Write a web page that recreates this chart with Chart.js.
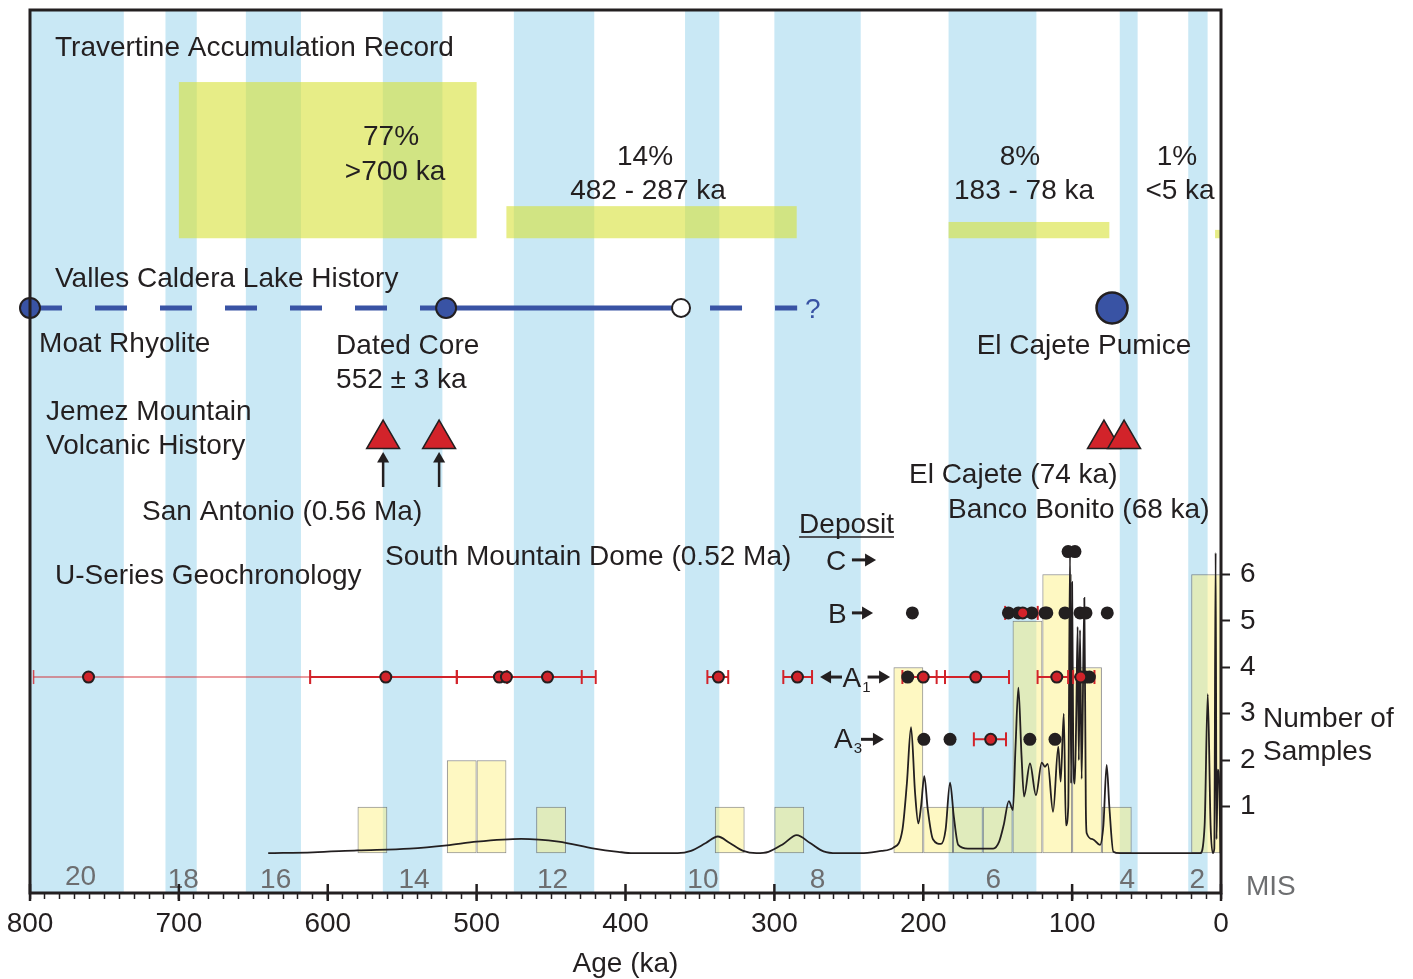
<!DOCTYPE html>
<html>
<head>
<meta charset="utf-8">
<script src="https://cdn.jsdelivr.net/npm/chart.js@4.4.1/dist/chart.umd.min.js"></script>
<style>
  html, body { margin: 0; padding: 0; background: #fff; }
  #chart { display: block; }
</style>
</head>
<body>
<canvas id="chart" width="1413" height="979"></canvas>
<script>
// --- data (ages in ka) ---
const ageTicks = [800, 700, 600, 500, 400, 300, 200, 100, 0];
const countTicks = [1, 2, 3, 4, 5, 6];

// marine isotope stages (glacial bands)
const misStart = [800, 709, 655, 563, 475, 360, 300, 183, 68, 22];
const misEnd = [737, 688, 618, 523, 421, 337, 242, 124, 56, 9];
const misNames = ['20', '18', '16', '14', '12', '10', '8', '6', '4', '2'];
const misNameAge = [766, 697, 635, 542, 449, 348, 271, 153, 63, 16];

// travertine accumulation blocks
const travStart = [700, 480, 183, 4];
const travEnd = [500, 285, 75, 0];
const travTop = [16.59, 13.92, 13.58, 13.41];
const travBase = 13.23;
const travShare = ['77%', '14%', '8%', '1%'];
const travRange = ['>700 ka', '482 - 287 ka', '183 - 78 ka', '<5 ka'];

// histogram of U-series samples, 20 ka bins (bin centre, count)
const binCentre = [570, 510, 490, 450, 330, 290, 210, 190, 170, 150, 130, 110, 90, 70, 10];
const binCount = [1, 2, 2, 1, 1, 1, 4, 1, 1, 1, 5, 6, 4, 1, 6];

// summed probability curve [age, value]
const density = [
  [640, 0], [610, 0.02], [580, 0.06], [545, 0.1], [520, 0.17], [500, 0.25], [470, 0.31],
  [445, 0.25], [421, 0.1], [405, 0.03], [395, 0], [365, 0], [356, 0.05], [346, 0.22],
  [338, 0.36], [330, 0.22], [321, 0.05], [312, 0], [304, 0.03], [294, 0.2], [285, 0.39],
  [276, 0.22], [267, 0.04], [258, 0], [242, 0], [228, 0.05], [220, 0.12], [214, 0.5],
  [211, 1.5], [208.2, 2.71], [205.5, 1.3], [203.3, 0.64], [201.5, 1.0], [199.3, 1.66],
  [197, 0.95], [193.5, 0.3], [188, 0.2], [185, 0.5], [182, 1.52], [179.5, 0.8], [176.5, 0.18],
  [170, 0.1], [153, 0.1], [149, 0.25], [146, 0.6], [142.5, 1.12], [139.8, 0.93], [138, 2.3],
  [136.1, 3.56], [134, 2.1], [132.3, 1.22], [128.3, 1.93], [124.3, 1.25], [120.4, 1.95],
  [118.2, 1.86], [116.4, 1.92], [112.8, 0.89], [109.3, 2.29], [107.7, 1.54], [105.6, 3.0],
  [104.2, 0.6], [102.6, 1.0], [101.4, 6.5], [100.7, 1.5], [100.0, 5.83], [99.2, 2.0],
  [98.2, 1.5], [97.2, 3.0], [96.3, 4.87], [95.5, 2.0], [94.7, 4.8], [93.6, 1.6], [91.8, 5.49],
  [90.8, 1.0], [90.2, 0.43], [86, 0.3], [81.3, 0.18], [79, 0.6], [76.8, 1.9], [75, 1.0],
  [72.3, 0.03], [68, 0], [14, 0], [11, 0.6], [8.9, 3.42], [7, 0.6], [5.5, 0], [4.5, 0.1],
  [3.6, 6.46], [3.0, 0.3], [2.2, 1.8], [1.2, 1.5], [0.3, 0]
];

// lake history
const lakeLevel = 11.73;
const lakeDashed = [800, 520.5];
const lakeSolid = [520.5, 362.7];
const lakeUnsure = [362.7, 284.7];
const lakeDated = [800, 520.5];
const lakeOpen = [362.7];
const pumiceAge = [73.2];

// volcanic events
const volcanoLevel = 8.91;
const volcanoAge = [562.8, 525.2, 78.6, 65.1];
const arrowAge = [562.8, 525.2];
const arrowFoot = 7.88;
const arrowTip = 8.48;

// U-series rows
const rowC = 6.31, rowB = 5.17, rowA1 = 3.79, rowA3 = 2.45;
const dotC = 6.49;
const blackC = [102.7, 98.1];
const blackB = [207.3, 142.8, 136.1, 127.1, 118.2, 117, 104.8, 94.7, 90.7, 76.4];
const blackA1 = [210.4, 91.0, 88.4];
const blackA3 = [199.6, 182, 128.4, 111.5];
const redA1 = [760.7, 561, 484.7, 480, 452.4, 337.6, 284.5, 200, 164.7, 110.3, 94.2];
const redB = [133.2];
const redA3 = [154.7];
// error bars (old end, young end)
const errA1Lo = [611.8, 513.3, 479.5, 345, 294, 214, 191, 123.2, 99.3];
const errA1Hi = [513.3, 429.4, 420, 331, 274.7, 185.4, 142.4, 102.7, 85];
const errOldLo = [797.6];
const errOldHi = [611.8];
const errBLo = [145], errBHi = [123.1];
const errA3Lo = [166], errA3Hi = [144.4];

// --- styling ---
const INK = '#231f20';
const BAND = '#c9e8f5';
const LAKE = '#3953a4';
const RED = '#d2232a';
const GREY = '#6d6e70';
const FONT = "'Liberation Sans', Arial, Helvetica, sans-serif";
const font28 = { family: FONT, size: 28 };

const pts = (ages, level) => ages.map(a => ({ x: a, y: level }));
function bars(lo, hi, level) {
    const d = [];
    lo.forEach((l, i) => {
        d.push({ x: l, y: level }, { x: hi[i], y: level }, { x: hi[i], y: null });
    });
    return d;
}
function stalks(ages) {
    const d = [];
    ages.forEach(a => d.push({ x: a, y: arrowFoot }, { x: a, y: arrowTip }, { x: a, y: null }));
    return d;
}

// text placed in data coordinates: [text, age, level, align, colour, size]
const notes = [
    ['Travertine Accumulation Record', 783.2, 17.15, 'left'],
    [travShare[0], 557.5, 15.23, 'center'],
    [travRange[0], 554.8, 14.48, 'center'],
    [travShare[1], 386.9, 14.81, 'center'],
    [travRange[1], 384.9, 14.07, 'center'],
    [travShare[2], 135.0, 14.81, 'center'],
    [travRange[2], 132.3, 14.07, 'center'],
    [travShare[3], 29.6, 14.81, 'center'],
    [travRange[3], 27.5, 14.07, 'center'],
    ['Valles Caldera Lake History', 783.2, 12.18, 'left'],
    ['Moat Rhyolite', 793.9, 10.78, 'left'],
    ['Dated Core', 594.4, 10.74, 'left'],
    ['552 \u00b1 3 ka', 594.4, 10.0, 'left'],
    ['El Cajete Pumice', 92.0, 10.74, 'center'],
    ['?', 279.4, 11.51, 'left', LAKE],
    ['Jemez Mountain', 789.2, 9.32, 'left'],
    ['Volcanic History', 789.2, 8.59, 'left'],
    ['San Antonio (0.56 Ma)', 724.7, 7.17, 'left'],
    ['South Mountain Dome (0.52 Ma)', 561.5, 6.2, 'left'],
    ['El Cajete (74 ka)', 209.6, 7.96, 'left'],
    ['Banco Bonito (68 ka)', 183.4, 7.21, 'left'],
    ['U-Series Geochronology', 783.2, 5.79, 'left'],
    ['Deposit', 283.4, 6.89, 'left'],
    ['C', 265.3, 6.09, 'left'],
    ['B', 264.0, 4.95, 'left'],
    ['A', 254.2, 3.58, 'left'],
    ['1', 240.9, 3.47, 'left', INK, 15],
    ['A', 259.9, 2.26, 'left'],
    ['3', 246.6, 2.15, 'left', INK, 15],
    ['Number of', -28.2, 2.71, 'left'],
    ['Samples', -28.2, 2.0, 'left'],
    ['MIS', -16.8, -0.9, 'left', GREY]
];
// deposit arrows: [from age, to age, level]
const pointers = [
    [247.9, 231.7, rowC], [247.9, 233.7, rowB], [254.6, 269.3, rowA1],
    [237.4, 222.3, rowA1], [241.8, 226.4, rowA3]
];

// blue stage bands and travertine blocks behind everything
const backdrop = {
    id: 'backdrop',
    beforeDatasetsDraw(chart) {
        const { ctx, chartArea: a, scales: { x, y } } = chart;
        ctx.save();
        ctx.fillStyle = BAND;
        misStart.forEach((s, i) => {
            const x0 = x.getPixelForValue(s), x1 = x.getPixelForValue(misEnd[i]);
            ctx.fillRect(x0, a.top, x1 - x0, a.bottom - a.top);
        });
        ctx.fillStyle = 'rgba(215,225,55,0.6)';
        travStart.forEach((s, i) => {
            const x0 = x.getPixelForValue(s), x1 = x.getPixelForValue(travEnd[i]);
            const y0 = y.getPixelForValue(travTop[i]), y1 = y.getPixelForValue(travBase);
            ctx.fillRect(x0, y0, x1 - x0, y1 - y0);
        });
        ctx.restore();
    }
};

// labels, frame and inward major ticks
const overlay = {
    id: 'overlay',
    afterDraw(chart) {
        const { ctx, chartArea: a, scales: { x, y } } = chart;
        ctx.save();
        ctx.font = `28px ${FONT}`;
        ctx.textBaseline = 'alphabetic';

        ctx.fillStyle = GREY;
        ctx.textAlign = 'center';
        misNames.forEach((n, i) => {
            ctx.fillText(n, x.getPixelForValue(misNameAge[i]), y.getPixelForValue(i === 0 ? -0.68 : -0.75));
        });

        notes.forEach(([t, age, lv, align, col, size]) => {
            ctx.font = `${size || 28}px ${FONT}`;
            ctx.fillStyle = col || INK;
            ctx.textAlign = align;
            const px = x.getPixelForValue(age), py = y.getPixelForValue(lv);
            ctx.fillText(t, px, py);
            if (t === 'Deposit') {
                const w = ctx.measureText(t).width;
                ctx.strokeStyle = INK;
                ctx.lineWidth = 1.5;
                ctx.beginPath();
                ctx.moveTo(px, py + 4);
                ctx.lineTo(px + w, py + 4);
                ctx.stroke();
            }
        });

        // bold arrows next to the deposit letters
        ctx.fillStyle = INK;
        ctx.strokeStyle = INK;
        pointers.forEach(([from, to, lv]) => {
            const x0 = x.getPixelForValue(from), x1 = x.getPixelForValue(to);
            const py = y.getPixelForValue(lv);
            const dir = Math.sign(x1 - x0);
            ctx.lineWidth = 3;
            ctx.beginPath();
            ctx.moveTo(x0, py);
            ctx.lineTo(x1 - dir * 8, py);
            ctx.stroke();
            ctx.beginPath();
            ctx.moveTo(x1, py);
            ctx.lineTo(x1 - dir * 11, py - 6.5);
            ctx.lineTo(x1 - dir * 11, py + 6.5);
            ctx.closePath();
            ctx.fill();
        });

        ctx.lineWidth = 2.5;
        ageTicks.forEach(v => {
            const px = x.getPixelForValue(v);
            ctx.beginPath();
            ctx.moveTo(px, a.bottom - 9);
            ctx.lineTo(px, a.bottom + 8);
            ctx.stroke();
        });

        ctx.lineWidth = 3;
        ctx.strokeRect(a.left, a.top, a.right - a.left, a.bottom - a.top);
        ctx.restore();
    }
};

new Chart(document.getElementById('chart'), {
    data: {
        datasets: [
            {
                type: 'scatter', data: pts(lakeDated, lakeLevel), order: 1, clip: false,
                pointRadius: 10, pointBackgroundColor: LAKE, pointBorderColor: INK, pointBorderWidth: 2
            },
            {
                type: 'scatter', data: pts(lakeOpen, lakeLevel), order: 1,
                pointRadius: 9, pointBackgroundColor: '#fff', pointBorderColor: INK, pointBorderWidth: 2
            },
            {
                type: 'scatter', data: pts(pumiceAge, lakeLevel), order: 1,
                pointRadius: 15.5, pointBackgroundColor: LAKE, pointBorderColor: INK, pointBorderWidth: 2.5
            },
            {
                type: 'scatter', data: [...pts(redA1, rowA1), ...pts(redB, rowB), ...pts(redA3, rowA3)], order: 2,
                pointRadius: 5.5, pointBackgroundColor: RED, pointBorderColor: INK, pointBorderWidth: 2
            },
            {
                type: 'scatter',
                data: [...pts(blackC, dotC), ...pts(blackB, rowB), ...pts(blackA1, rowA1), ...pts(blackA3, rowA3)],
                order: 3, pointRadius: 6.5, pointBackgroundColor: INK, pointBorderWidth: 0
            },
            {
                type: 'line', data: [...bars(errA1Lo, errA1Hi, rowA1), ...bars(errBLo, errBHi, rowB), ...bars(errA3Lo, errA3Hi, rowA3)],
                order: 4, borderColor: RED, borderWidth: 2, clip: false,
                pointStyle: 'line', pointRotation: 90, pointRadius: 7, pointBorderColor: RED, pointBorderWidth: 2
            },
            {
                type: 'line', data: bars(errOldLo, errOldHi, rowA1), order: 5, clip: false,
                borderColor: 'rgba(210,35,42,0.6)', borderWidth: 1.5,
                pointStyle: 'line', pointRotation: 90, pointRadius: 7, pointBorderColor: 'rgba(210,35,42,0.8)', pointBorderWidth: 1.5
            },
            {
                type: 'scatter', data: pts(volcanoAge, volcanoLevel), order: 6,
                pointStyle: 'triangle', pointRadius: 19, pointBackgroundColor: RED, pointBorderColor: INK, pointBorderWidth: 1.5
            },
            {
                type: 'scatter', data: pts(arrowAge, arrowTip), order: 6,
                pointStyle: 'triangle', pointRadius: 7, pointBackgroundColor: INK, pointBorderWidth: 0
            },
            {
                type: 'line', data: stalks(arrowAge), order: 7,
                borderColor: INK, borderWidth: 2.5, pointRadius: 0
            },
            {
                type: 'line', data: pts(lakeSolid, lakeLevel), order: 8,
                borderColor: LAKE, borderWidth: 5, pointRadius: 0
            },
            {
                type: 'line', data: pts(lakeDashed, lakeLevel), order: 8,
                borderColor: LAKE, borderWidth: 5, borderDash: [32, 33], pointRadius: 0
            },
            {
                type: 'line', data: pts(lakeUnsure, lakeLevel), order: 8,
                borderColor: LAKE, borderWidth: 5, borderDash: [32, 33], borderDashOffset: 36, pointRadius: 0
            },
            {
                type: 'line', data: density.map(([a, v]) => ({ x: a, y: v })), order: 9,
                borderColor: INK, borderWidth: 1.8, pointRadius: 0, cubicInterpolationMode: 'monotone'
            },
            {
                // ruler.min follows the 10 ka tick spacing, so 2 x 10 ka = one 20 ka bin
                type: 'bar', data: binCentre.map((c, i) => ({ x: c, y: binCount[i] })), order: 10,
                categoryPercentage: 2, barPercentage: 1, borderSkipped: false,
                backgroundColor: 'rgba(252,240,120,0.45)', borderColor: 'rgba(90,90,90,0.7)', borderWidth: 1
            }
        ]
    },
    options: {
        responsive: false,
        animation: false,
        events: [],
        layout: { padding: { left: 30, top: 10, right: 132, bottom: 0 }, autoPadding: false },
        plugins: { legend: { display: false }, tooltip: { enabled: false } },
        scales: {
            x: {
                type: 'linear', reverse: true, min: 0, max: 800, offset: false,
                afterFit: s => { s.height = 86; s.paddingLeft = 0; s.paddingRight = 0; },
                ticks: {
                    stepSize: 10, autoSkip: false, maxRotation: 0, minRotation: 0, padding: 8,
                    font: font28, color: INK,
                    callback: v => ageTicks.includes(v) ? String(v) : ''
                },
                grid: { offset: false, drawOnChartArea: false, tickLength: 6, tickWidth: 1.5, tickColor: INK },
                border: { display: false },
                title: { display: true, text: 'Age (ka)', font: font28, color: INK, padding: { top: 0, bottom: -2 } }
            },
            y: {
                type: 'linear', position: 'right', min: -0.856, max: 18.14,
                afterBuildTicks: s => { s.ticks = countTicks.map(v => ({ value: v })); },
                afterFit: s => { s.width = 60; s.paddingTop = 0; s.paddingBottom = 0; },
                ticks: { font: font28, color: INK, padding: 10 },
                grid: { drawOnChartArea: false, tickLength: 9, tickWidth: 2, tickColor: INK },
                border: { display: false }
            }
        }
    },
    plugins: [backdrop, overlay]
});
</script>
</body>
</html>
